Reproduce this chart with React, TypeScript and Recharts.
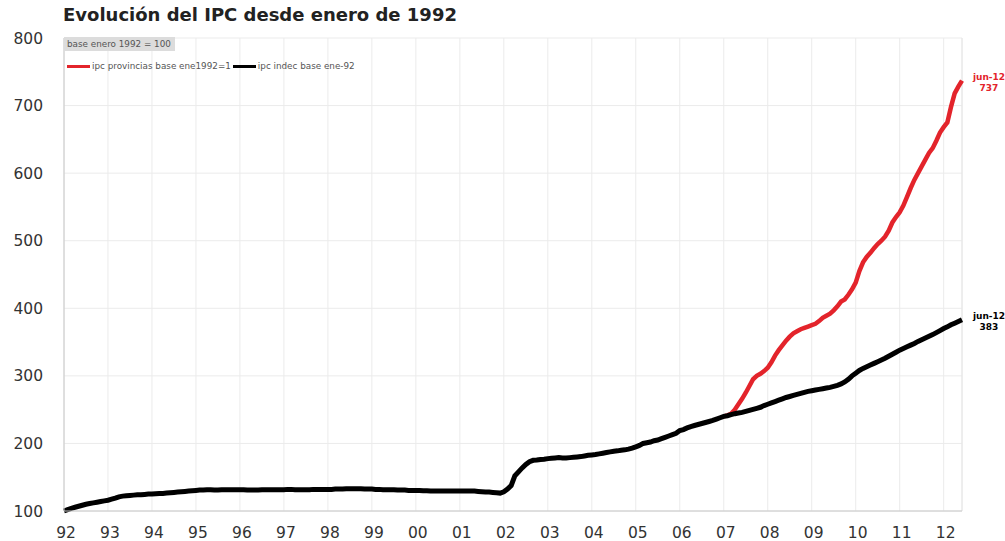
import React from 'react';
import { LineChart, Line, XAxis, YAxis, CartesianGrid, ReferenceLine } from 'recharts';

const yearLabels = ['92', '93', '94', '95', '96', '97', '98', '99', '00', '01', '02', '03', '04', '05', '06', '07', '08', '09', '10', '11', '12'];
const yTicks = [100, 200, 300, 400, 500, 600, 700, 800];

// ipc indec base ene-92, monthly Jan 1992 .. Jun 2012
const ipcIndec = [
  100, 102, 104, 105.5, 107, 108.5, 110, 111, 112, 113, 114, 115,
  116, 117.5, 119, 121, 122, 122.5, 123, 123.5, 124, 124, 124.5, 125,
  125, 125.5, 126, 126, 126.5, 127, 127.5, 128, 128.5, 129, 129.5, 130,
  130.5, 131, 131, 131.5, 131.5, 131, 131, 131.5, 131.5, 131.5, 131.5, 131.5,
  131.5, 131.5, 131, 131, 131, 131, 131.5, 131.5, 131.5, 131.5, 131.5, 131.5,
  131.5, 132, 132, 131.5, 131.5, 131.5, 131.5, 131.5, 132, 132, 132, 132,
  132, 132, 132.5, 132.5, 132.5, 133, 133, 133, 133, 133, 132.5, 132.5,
  132.5, 132, 132, 131.5, 131.5, 131.5, 131.5, 131, 131, 131, 130.5, 130.5,
  130.5, 130.5, 130, 130, 129.5, 129.5, 129.5, 129.5, 129.5, 129.5, 129.5, 129.5,
  129.5, 129.5, 129.5, 129.5, 129.5, 129, 128.5, 128, 128, 127.5, 127, 126.5,
  128.4, 132.4, 137.7, 152, 158, 163.8, 169, 173, 175, 175.4, 176.3, 176.6,
  177.5, 178, 178.5, 179, 178.5, 178.5, 179, 179.5, 180, 180.5, 181.5, 182.5,
  183, 183.5, 184.5, 185.5, 186.5, 187.5, 188.5, 189, 190, 190.5, 191.5, 193,
  195, 197, 200, 201, 202, 204, 205, 207, 209, 211, 213, 215,
  219, 220.5, 223, 225, 226.5, 228, 229.5, 231, 232.5, 234, 236, 238,
  240, 241, 242.5, 244, 245, 246, 247.5, 249, 250.5, 252, 253.5, 256,
  258, 260, 262, 264, 266, 268, 269.5, 271, 272.5, 274, 275.5, 277,
  278, 279, 280, 281, 282, 283, 284.5, 286, 288, 291, 295, 300,
  304, 308, 311, 313.5, 316, 318.5, 321, 323.5, 326, 329, 332, 335,
  338, 340.5, 343, 345.5, 348, 351, 353.5, 356, 358.5, 361, 364, 367,
  370, 372.5, 375.5, 378, 380.5, 383,
];

// ipc provincias base ene1992=1 (rebased to 100), monthly Jan 2007 .. Jun 2012
const provinciasStart = 180;
const ipcProvincias = [
  240, 241.5, 244, 250, 258, 266, 275, 285, 295, 300, 303, 307,
  312, 320, 330, 338, 345, 352, 358, 363, 366, 369, 371, 373,
  375, 377, 381, 386, 389, 392, 397, 403, 410, 413, 420, 428,
  438, 455, 468, 476, 482, 489, 495, 500, 506, 515, 527, 535,
  542, 552, 565, 578, 590, 600, 610, 620, 630, 637, 648, 660,
  668, 675, 698, 718, 728, 737,
];

const RED = '#e3242b';
const FONT = '"DejaVu Sans", Verdana, sans-serif';

const data = ipcIndec.map((v, i) => ({
  t: i,
  indec: v,
  prov: i >= provinciasStart ? ipcProvincias[i - provinciasStart] : null,
}));
const lastIdx = ipcIndec.length - 1;
const xTicks = yearLabels.map((_, i) => i * 12);

const endLabel = (color: string, value: number) => (props: any) => {
  const { x, y, index } = props;
  if (index !== lastIdx) return null;
  return (
    <g>
      <text x={x + 27} y={y - 4} dy="0.35em" textAnchor="middle" fill={color} fontSize={9} fontWeight="bold" fontFamily={FONT}>jun-12</text>
      <text x={x + 27} y={y + 7} dy="0.35em" textAnchor="middle" fill={color} fontSize={9} fontWeight="bold" fontFamily={FONT}>{value}</text>
    </g>
  );
};

export default function App() {
  return (
    <div style={{ position: 'absolute', left: 0, top: 0, width: 1005, height: 541, background: '#fff' }}>
      <div style={{ position: 'absolute', left: 63, top: 4, fontFamily: FONT, fontWeight: 'bold', fontSize: 18, color: '#222', whiteSpace: 'nowrap' }}>
        Evolución del IPC desde enero de 1992
      </div>
      <LineChart width={1005} height={541} data={data} margin={{ top: 38, right: 43, bottom: 0, left: 0 }}>
        <CartesianGrid stroke="#ebebeb" strokeWidth={1} />
        <XAxis
          dataKey="t"
          type="number"
          domain={[0, lastIdx]}
          ticks={xTicks}
          tickFormatter={(v: number) => yearLabels[v / 12]}
          interval={0}
          height={30}
          tickSize={0}
          tickMargin={16}
          axisLine={{ stroke: '#c8c8c8' }}
          tick={{ fill: '#333', fontSize: 15.5, fontFamily: FONT, dx: 2 }}
        />
        <YAxis
          domain={[100, 800]}
          ticks={yTicks}
          width={64}
          interval={0}
          tickSize={0}
          tickMargin={21}
          axisLine={{ stroke: '#c8c8c8' }}
          tick={{ fill: '#333', fontSize: 15.5, fontFamily: FONT }}
        />
        <ReferenceLine x={lastIdx} stroke="#e6e6e6" />
        <Line
          dataKey="prov"
          stroke={RED}
          strokeWidth={4.5}
          dot={false}
          isAnimationActive={false}
          connectNulls={false}
          label={endLabel(RED, ipcProvincias[ipcProvincias.length - 1])}
        />
        <Line
          dataKey="indec"
          stroke="#000"
          strokeWidth={5}
          dot={false}
          isAnimationActive={false}
          label={endLabel('#000', ipcIndec[lastIdx])}
        />
      </LineChart>
      <div style={{ position: 'absolute', left: 64, top: 37, width: 111, height: 14, background: '#dcdcdc', fontFamily: FONT, fontSize: 8.8, color: '#555', lineHeight: '14px', paddingLeft: 3, boxSizing: 'border-box', whiteSpace: 'nowrap' }}>
        base enero 1992 = 100
      </div>
      <div style={{ position: 'absolute', left: 67, top: 59, height: 14, display: 'flex', alignItems: 'center', fontFamily: FONT, fontSize: 8.8, color: '#555', whiteSpace: 'nowrap' }}>
        <span style={{ display: 'inline-block', width: 23, height: 3, background: RED, marginRight: 2 }} />
        <span>ipc provincias base ene1992=1</span>
        <span style={{ display: 'inline-block', width: 23, height: 3, background: '#000', marginLeft: 2, marginRight: 2 }} />
        <span>ipc indec base ene-92</span>
      </div>
    </div>
  );
}
